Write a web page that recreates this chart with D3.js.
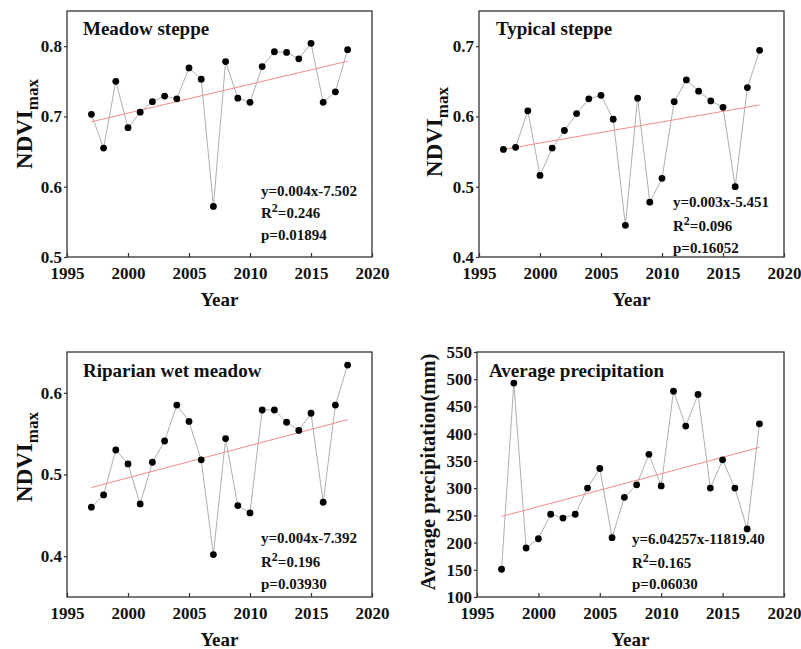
<!DOCTYPE html>
<html>
<head>
<meta charset="utf-8">
<script src="https://cdn.jsdelivr.net/npm/d3@7"></script>
<style>
    body { margin: 0; background: #fff; }
    svg { display: block; font-family: "Liberation Serif", "Times New Roman", serif; font-weight: bold; }
</style>
</head>
<body>
<div id="chart"></div>
<script>
// Years on the x axis
const years = [1997, 1998, 1999, 2000, 2001, 2002, 2003, 2004, 2005, 2006, 2007,
    2008, 2009, 2010, 2011, 2012, 2013, 2014, 2015, 2016, 2017, 2018];
const yearTicks = [1995, 2000, 2005, 2010, 2015, 2020];

// NDVImax series
const meadowSteppe = [0.703, 0.655, 0.750, 0.684, 0.706, 0.721, 0.729, 0.725, 0.769, 0.753, 0.572,
    0.778, 0.726, 0.720, 0.771, 0.792, 0.791, 0.782, 0.804, 0.720, 0.735, 0.795];
const typicalSteppe = [0.553, 0.556, 0.608, 0.516, 0.555, 0.580, 0.604, 0.625, 0.630, 0.596, 0.445,
    0.626, 0.478, 0.512, 0.621, 0.652, 0.636, 0.622, 0.613, 0.500, 0.641, 0.694];
const riparianWetMeadow = [0.460, 0.475, 0.530, 0.513, 0.464, 0.515, 0.541, 0.585, 0.565, 0.518, 0.402,
    0.544, 0.462, 0.453, 0.579, 0.579, 0.564, 0.554, 0.575, 0.466, 0.585, 0.634];
// Average precipitation (mm)
const avgPrecipitation = [151, 493, 190, 207, 252, 245, 252, 300, 336, 209, 283,
    306, 362, 304, 478, 414, 472, 300, 352, 300, 225, 418];

// y tick values per panel
const meadowTicks = [0.5, 0.6, 0.7, 0.8];
const typicalTicks = [0.4, 0.5, 0.6, 0.7];
const riparianTicks = [0.4, 0.5, 0.6];
const precipTicks = [100, 150, 200, 250, 300, 350, 400, 450, 500, 550];

// regression text per panel: [equation, R², p]
const meadowStats = ["y=0.004x-7.502", "0.246", "p=0.01894"];
const typicalStats = ["y=0.003x-5.451", "0.096", "p=0.16052"];
const riparianStats = ["y=0.004x-7.392", "0.196", "p=0.03930"];
const precipStats = ["y=6.04257x-11819.40", "0.165", "p=0.06030"];

const panels = [
    { values: meadowSteppe, title: "Meadow steppe", ticks: meadowTicks, domain: [0.5, 0.85], fmt: ".1f",
      stats: meadowStats, ndvi: true,
      box: { left: 67, right: 372, top: 11, bottom: 257 },
      titleAt: [83, 35], statAt: [261, 196, 218, 240], yLabelAt: [32, 124] },
    { values: typicalSteppe, title: "Typical steppe", ticks: typicalTicks, domain: [0.4, 0.75], fmt: ".1f",
      stats: typicalStats, ndvi: true,
      box: { left: 479, right: 784, top: 11, bottom: 257 },
      titleAt: [496, 35], statAt: [673, 207, 231, 253], yLabelAt: [442, 132] },
    { values: riparianWetMeadow, title: "Riparian wet meadow", ticks: riparianTicks, domain: [0.35, 0.65], fmt: ".1f",
      stats: riparianStats, ndvi: true,
      box: { left: 67, right: 372, top: 352, bottom: 597 },
      titleAt: [83, 377], statAt: [261, 543, 567, 589], yLabelAt: [32, 457] },
    { values: avgPrecipitation, title: "Average precipitation", ticks: precipTicks, domain: [100, 550], fmt: "d",
      stats: precipStats, ndvi: false,
      box: { left: 477, right: 784, top: 352, bottom: 597 },
      titleAt: [489, 377], statAt: [632, 544, 568, 589], yLabelAt: [435, 472] }
];

const width = 801, height = 649;

const svg = d3.select("#chart")
    .append("svg")
    .attr("width", width)
    .attr("height", height);

// least squares fit for the trend line
function linearFit(xs, ys) {
    const mx = d3.mean(xs), my = d3.mean(ys);
    let sxy = 0, sxx = 0;
    xs.forEach((x, i) => {
        sxy += (x - mx) * (ys[i] - my);
        sxx += (x - mx) * (x - mx);
    });
    const slope = sxy / sxx;
    return x => my + slope * (x - mx);
}

panels.forEach(p => {
    const b = p.box;
    const g = svg.append("g");

    const x = d3.scaleLinear().domain([1995, 2020]).range([b.left, b.right]);
    const y = d3.scaleLinear().domain(p.domain).range([b.bottom, b.top]);

    // axes
    g.append("g")
        .attr("transform", `translate(0,${b.bottom})`)
        .call(d3.axisBottom(x).tickValues(yearTicks).tickFormat(d3.format("d"))
            .tickSizeInner(-4).tickSizeOuter(0).tickPadding(10))
        .call(a => a.select(".domain").remove())
        .call(a => a.selectAll("line").attr("stroke", "#333").attr("stroke-width", 1.2))
        .call(a => a.selectAll("text").attr("font-size", 17).attr("fill", "#111")
            .attr("font-family", "Liberation Serif").attr("font-weight", "bold"));

    g.append("g")
        .attr("transform", `translate(${b.left},0)`)
        .call(d3.axisLeft(y).tickValues(p.ticks).tickFormat(d3.format(p.fmt))
            .tickSizeInner(3).tickSizeOuter(0).tickPadding(2))
        .call(a => a.select(".domain").remove())
        .call(a => a.selectAll("line").attr("stroke", "#333").attr("stroke-width", 1.2))
        .call(a => a.selectAll("text").attr("font-size", 17).attr("fill", "#111")
            .attr("font-family", "Liberation Serif").attr("font-weight", "bold"));

    // frame
    g.append("rect")
        .attr("x", b.left)
        .attr("y", b.top)
        .attr("width", b.right - b.left)
        .attr("height", b.bottom - b.top)
        .attr("fill", "none")
        .attr("stroke", "#333")
        .attr("stroke-width", 1.3);

    // series line
    const pts = years.map((yr, i) => [yr, p.values[i]]);
    g.append("path")
        .datum(pts)
        .attr("fill", "none")
        .attr("stroke", "#9a9a9a")
        .attr("stroke-width", 0.8)
        .attr("d", d3.line().x(d => x(d[0])).y(d => y(d[1])));

    // trend line
    const fit = linearFit(years, p.values);
    const ends = [years[0], years[years.length - 1]];
    g.append("line")
        .attr("x1", x(ends[0]))
        .attr("y1", y(fit(ends[0])))
        .attr("x2", x(ends[1]))
        .attr("y2", y(fit(ends[1])))
        .attr("stroke", "#f08c8c")
        .attr("stroke-width", 1);

    // dots
    g.selectAll(".dot")
        .data(pts)
        .join("circle")
        .attr("class", "dot")
        .attr("cx", d => x(d[0]))
        .attr("cy", d => y(d[1]))
        .attr("r", 3.4)
        .attr("fill", "#000");

    // title
    g.append("text")
        .attr("x", p.titleAt[0])
        .attr("y", p.titleAt[1])
        .attr("font-size", 19)
        .attr("fill", "#111")
        .text(p.title);

    // stats
    const sx = p.statAt[0];
    g.append("text")
        .attr("x", sx).attr("y", p.statAt[1])
        .attr("font-size", 15).attr("fill", "#111")
        .text(p.stats[0]);
    const r2 = g.append("text")
        .attr("x", sx).attr("y", p.statAt[2])
        .attr("font-size", 15).attr("fill", "#111");
    r2.append("tspan").text("R");
    r2.append("tspan").attr("dy", -6).attr("font-size", 12).text("2");
    r2.append("tspan").attr("dy", 6).text("=" + p.stats[1]);
    g.append("text")
        .attr("x", sx).attr("y", p.statAt[3])
        .attr("font-size", 15).attr("fill", "#111")
        .text(p.stats[2]);

    // x label
    g.append("text")
        .attr("x", (b.left + b.right) / 2)
        .attr("y", b.bottom + 49)
        .attr("text-anchor", "middle")
        .attr("font-size", 19)
        .attr("fill", "#111")
        .text("Year");

    // y label
    const yl = g.append("text")
        .attr("transform", `translate(${p.yLabelAt[0]},${p.yLabelAt[1]}) rotate(-90)`)
        .attr("text-anchor", "middle")
        .attr("fill", "#111");
    if (p.ndvi) {
        yl.attr("font-size", 23);
        yl.append("tspan").text("NDVI");
        yl.append("tspan").attr("dy", 6).attr("font-size", 17).text("max");
    } else {
        yl.attr("font-size", 20.5).text("Average precipitation(mm)");
    }
});
</script>
</body>
</html>
